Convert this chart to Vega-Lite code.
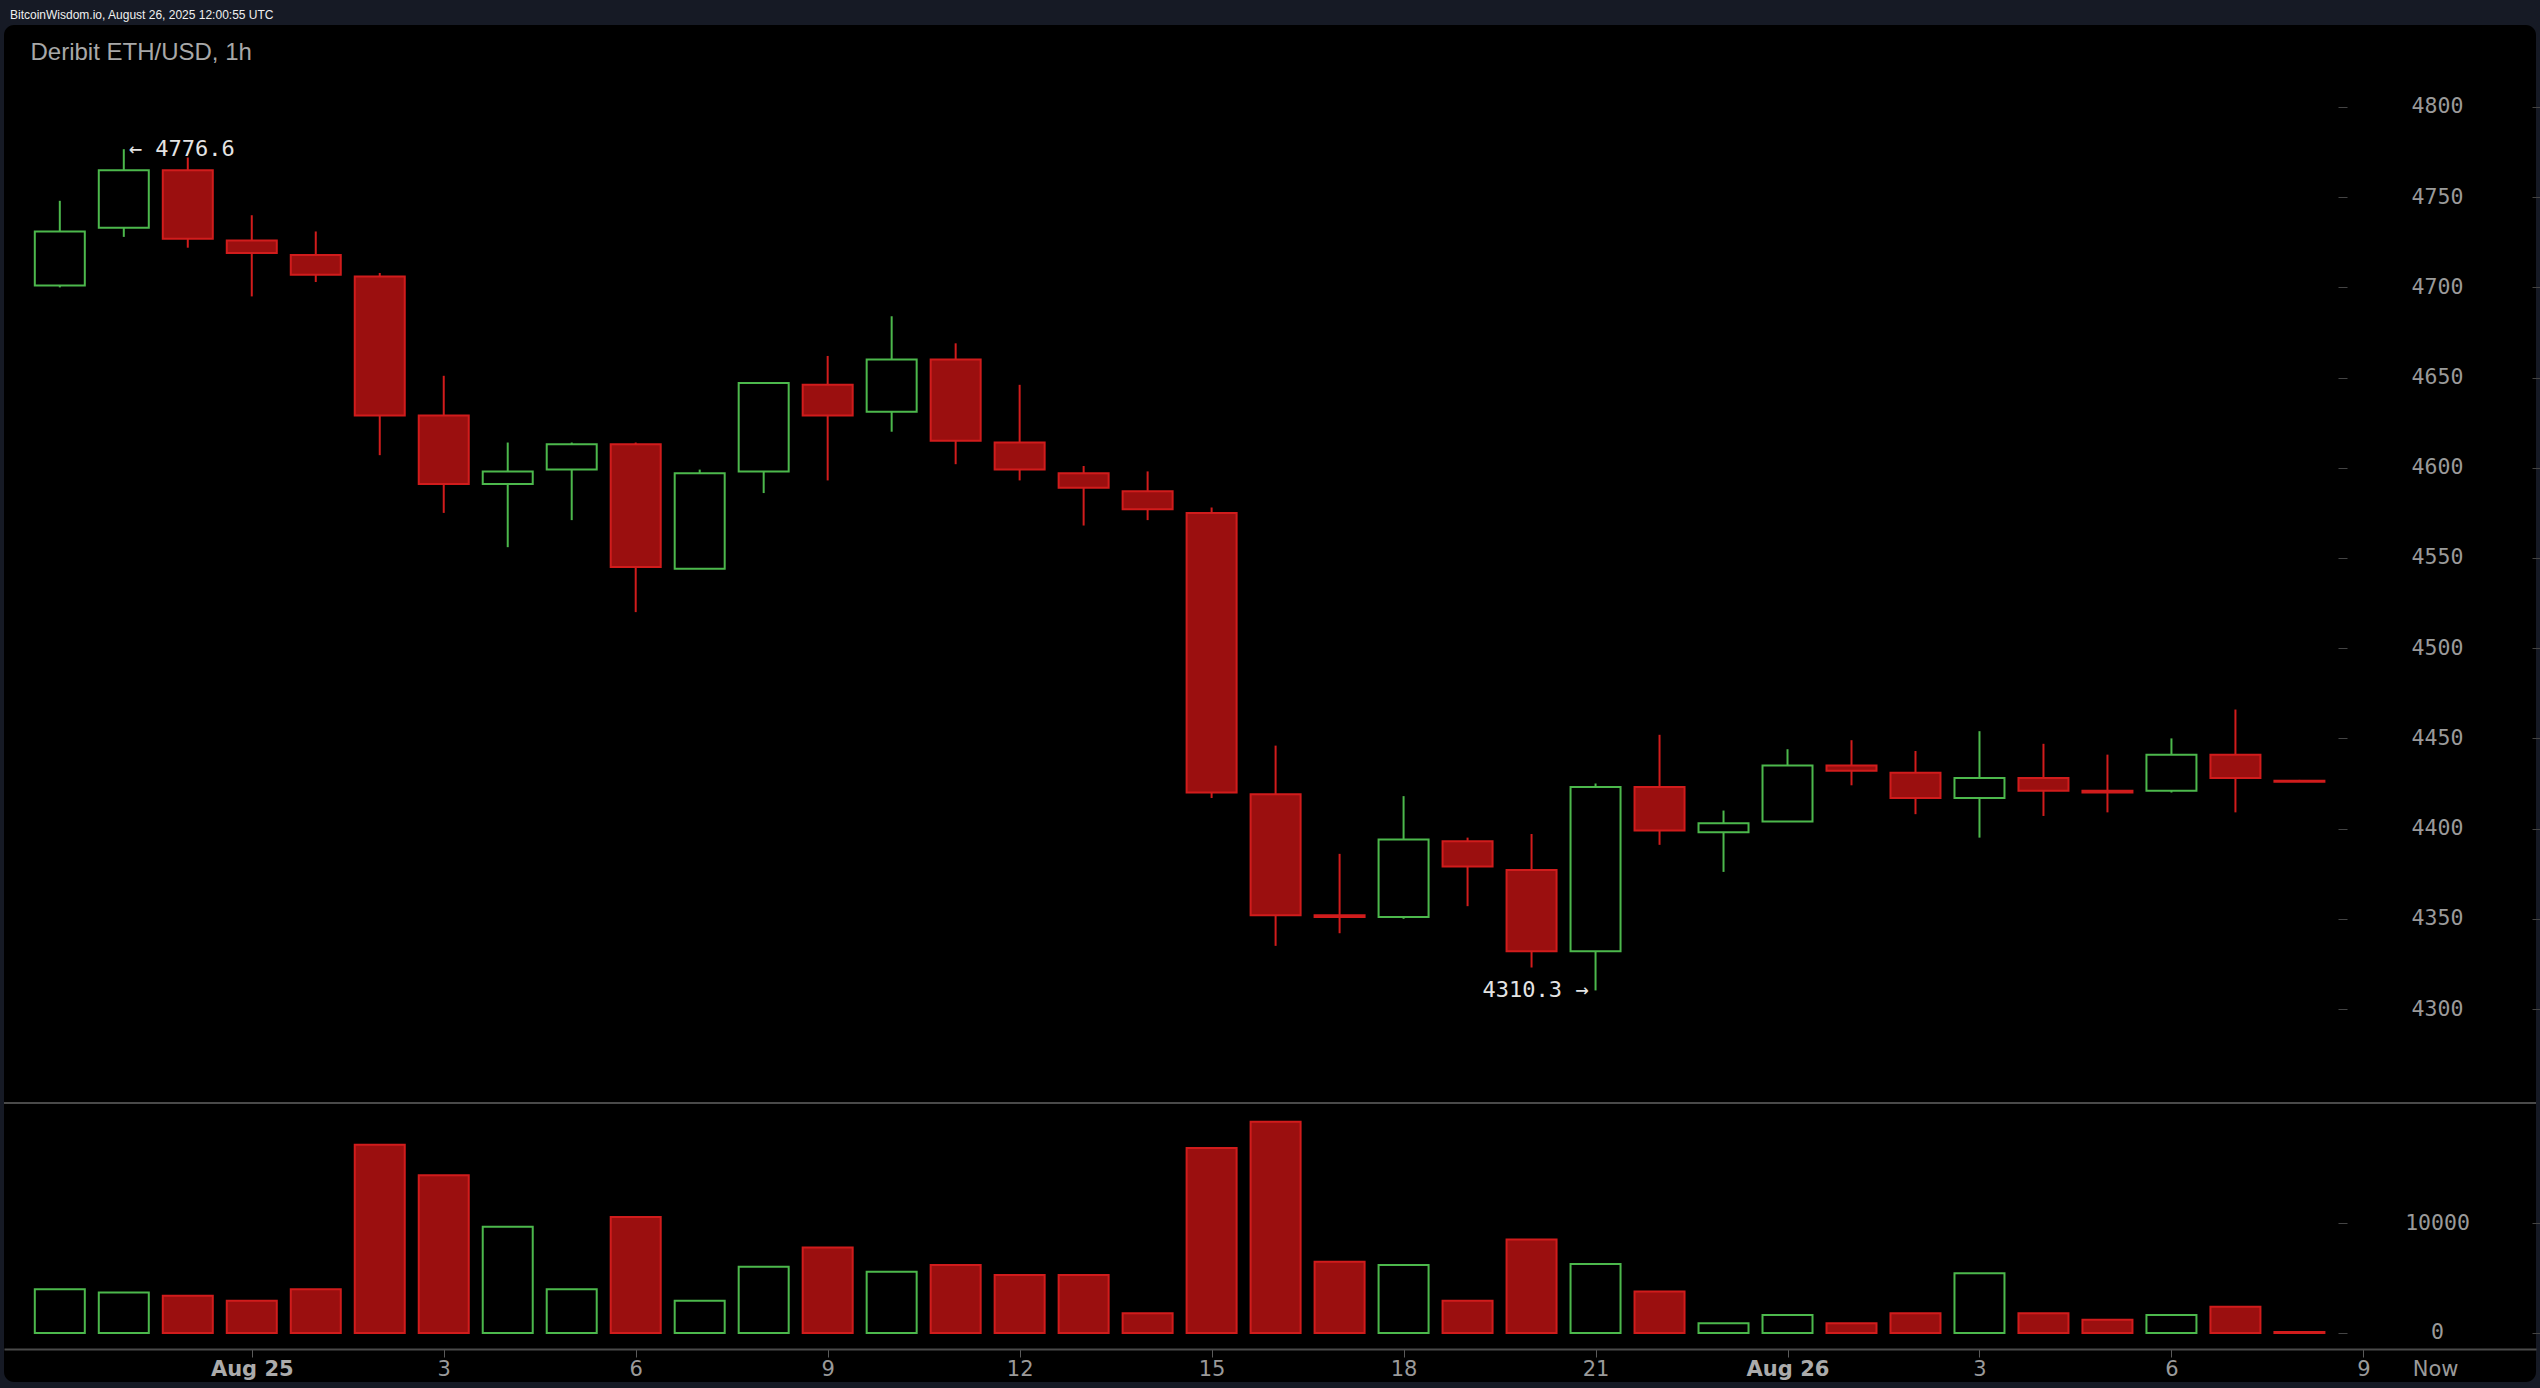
{
  "$schema": "https://vega.github.io/schema/vega-lite/v6.json",
  "autosize": "none",
  "width": 2532,
  "height": 1357,
  "padding": {"left": 4, "top": 25, "right": 4, "bottom": 6},
  "background": "#161a25",
  "config": {
    "view": {"fill": "#000000", "stroke": null, "cornerRadius": 10},
    "axis": {"grid": false}
  },
  "title": {
    "text": "BitcoinWisdom.io, August 26, 2025 12:00:55 UTC",
    "anchor": "start",
    "frame": "group",
    "orient": "top",
    "offset": 7,
    "dx": 6,
    "dy": 13,
    "baseline": "alphabetic",
    "font": "Liberation Sans",
    "fontSize": 12,
    "fontWeight": "normal",
    "color": "#f0f0f0"
  },
  "datasets": {
    "candles": [
      {"h": -3, "o": 4701, "hi": 4748, "lo": 4700, "c": 4731, "v": 4000, "d": "up"},
      {"h": -2, "o": 4733, "hi": 4776.6, "lo": 4728, "c": 4765, "v": 3700, "d": "up"},
      {"h": -1, "o": 4765, "hi": 4772, "lo": 4722, "c": 4727, "v": 3400, "d": "down"},
      {"h": 0, "o": 4726, "hi": 4740, "lo": 4695, "c": 4719, "v": 2950, "d": "down"},
      {"h": 1, "o": 4718, "hi": 4731, "lo": 4703, "c": 4707, "v": 4000, "d": "down"},
      {"h": 2, "o": 4706, "hi": 4708, "lo": 4607, "c": 4629, "v": 17200, "d": "down"},
      {"h": 3, "o": 4629, "hi": 4651, "lo": 4575, "c": 4591, "v": 14400, "d": "down"},
      {"h": 4, "o": 4591, "hi": 4614, "lo": 4556, "c": 4598, "v": 9700, "d": "up"},
      {"h": 5, "o": 4599, "hi": 4614, "lo": 4571, "c": 4613, "v": 4000, "d": "up"},
      {"h": 6, "o": 4613, "hi": 4614, "lo": 4520, "c": 4545, "v": 10600, "d": "down"},
      {"h": 7, "o": 4544, "hi": 4599, "lo": 4544, "c": 4597, "v": 2950, "d": "up"},
      {"h": 8, "o": 4598, "hi": 4647, "lo": 4586, "c": 4647, "v": 6050, "d": "up"},
      {"h": 9, "o": 4646, "hi": 4662, "lo": 4593, "c": 4629, "v": 7800, "d": "down"},
      {"h": 10, "o": 4631, "hi": 4684, "lo": 4620, "c": 4660, "v": 5600, "d": "up"},
      {"h": 11, "o": 4660, "hi": 4669, "lo": 4602, "c": 4615, "v": 6200, "d": "down"},
      {"h": 12, "o": 4614, "hi": 4646, "lo": 4593, "c": 4599, "v": 5300, "d": "down"},
      {"h": 13, "o": 4597, "hi": 4601, "lo": 4568, "c": 4589, "v": 5300, "d": "down"},
      {"h": 14, "o": 4587, "hi": 4598, "lo": 4571, "c": 4577, "v": 1800, "d": "down"},
      {"h": 15, "o": 4575, "hi": 4578, "lo": 4417, "c": 4420, "v": 16900, "d": "down"},
      {"h": 16, "o": 4419, "hi": 4446, "lo": 4335, "c": 4352, "v": 19300, "d": "down"},
      {"h": 17, "o": 4352, "hi": 4386, "lo": 4342, "c": 4351, "v": 6500, "d": "down"},
      {"h": 18, "o": 4351, "hi": 4418, "lo": 4350, "c": 4394, "v": 6200, "d": "up"},
      {"h": 19, "o": 4393, "hi": 4395, "lo": 4357, "c": 4379, "v": 2950, "d": "down"},
      {"h": 20, "o": 4377, "hi": 4397, "lo": 4323, "c": 4332, "v": 8550, "d": "down"},
      {"h": 21, "o": 4332, "hi": 4425, "lo": 4310.3, "c": 4423, "v": 6300, "d": "up"},
      {"h": 22, "o": 4423, "hi": 4452, "lo": 4391, "c": 4399, "v": 3800, "d": "down"},
      {"h": 23, "o": 4398, "hi": 4410, "lo": 4376, "c": 4403, "v": 900, "d": "up"},
      {"h": 24, "o": 4404, "hi": 4444, "lo": 4404, "c": 4435, "v": 1650, "d": "up"},
      {"h": 25, "o": 4435, "hi": 4449, "lo": 4424, "c": 4432, "v": 900, "d": "down"},
      {"h": 26, "o": 4431, "hi": 4443, "lo": 4408, "c": 4417, "v": 1800, "d": "down"},
      {"h": 27, "o": 4417, "hi": 4454, "lo": 4395, "c": 4428, "v": 5450, "d": "up"},
      {"h": 28, "o": 4428, "hi": 4447, "lo": 4407, "c": 4421, "v": 1800, "d": "down"},
      {"h": 29, "o": 4421, "hi": 4441, "lo": 4409, "c": 4420, "v": 1200, "d": "down"},
      {"h": 30, "o": 4421, "hi": 4450, "lo": 4420, "c": 4441, "v": 1650, "d": "up"},
      {"h": 31, "o": 4441, "hi": 4466, "lo": 4409, "c": 4428, "v": 2400, "d": "down"},
      {"h": 32, "o": 4426.5, "hi": 4427, "lo": 4426, "c": 4426, "v": 100, "d": "down"}
    ]
  },
  "data": {"name": "candles"},
  "layer": [
    {
      "mark": {"type": "rule", "strokeWidth": 2},
      "encoding": {
        "x": {
          "field": "h", "type": "quantitative",
          "scale": {"domain": [-3.794, 35.619], "nice": false, "zero": false},
          "axis": {
            "orient": "bottom", "offset": -33, "title": null,
            "values": [0, 3, 6, 9, 12, 15, 18, 21, 24, 27, 30, 33, 34.12],
            "labelExpr": "datum.value == 0 ? 'Aug 25' : datum.value == 24 ? 'Aug 26' : datum.value > 34 ? 'Now' : '' + (datum.value % 24)",
            "labelOverlap": false, "labelFlush": false,
            "domainColor": "#4a4a4a", "domainWidth": 2,
            "tickColor": "#5a5a5a", "tickSize": 8, "tickWidth": 1,
            "tickOpacity": {"condition": {"test": "datum.value > 34", "value": 0}, "value": 1},
            "labelFont": "DejaVu Sans", "labelFontSize": 21, "labelPadding": 1,
            "labelColor": {"condition": {"test": "datum.value == 0 || datum.value == 24", "value": "#ababab"}, "value": "#9a9a9a"},
            "labelFontWeight": {"condition": {"test": "datum.value == 0 || datum.value == 24", "value": "bold"}, "value": "normal"}
          }
        },
        "y": {
          "field": "lo", "type": "quantitative",
          "scale": {"domain": [4093.24, 4845.45], "nice": false, "zero": false},
          "axis": {
            "orient": "right", "offset": -4, "title": null,
            "values": [4300, 4350, 4400, 4450, 4500, 4550, 4600, 4650, 4700, 4750, 4800],
            "labels": false, "domain": false, "tickSize": 8, "tickColor": "#444444"
          }
        },
        "y2": {"field": "hi"},
        "stroke": {
          "field": "d", "type": "nominal",
          "scale": {"domain": ["up", "down"], "range": ["#4cb84c", "#d11c1c"]},
          "legend": null
        }
      }
    },
    {
      "mark": {"type": "bar", "size": 50, "strokeWidth": 2},
      "encoding": {
        "x": {"field": "h", "type": "quantitative", "scale": {"domain": [-3.794, 35.619], "nice": false, "zero": false}},
        "y": {
          "field": "o", "type": "quantitative",
          "scale": {"domain": [4093.24, 4845.45], "nice": false, "zero": false},
          "axis": {
            "orient": "right", "offset": -198, "format": "d",
            "values": [4300, 4350, 4400, 4450, 4500, 4550, 4600, 4650, 4700, 4750, 4800],
            "domain": false, "tickSize": 9, "tickColor": "#444444",
            "labelAlign": "center", "labelBaseline": "middle", "labelPadding": 90,
            "labelFont": "DejaVu Sans Mono", "labelFontSize": 21.5, "labelColor": "#9a9a9a",
            "title": "Deribit ETH/USD, 1h",
            "titleAngle": 0, "titleAlign": "left", "titleBaseline": "alphabetic",
            "titleX": -2308, "titleY": 34,
            "titleFont": "Liberation Sans", "titleFontSize": 24, "titleFontWeight": "normal", "titleColor": "#a8a8a8"
          }
        },
        "y2": {"field": "c"},
        "fill": {
          "field": "d", "type": "nominal",
          "scale": {"domain": ["up", "down"], "range": ["#000000", "#9b0f0f"]},
          "legend": null
        },
        "stroke": {"field": "d", "type": "nominal", "legend": null}
      }
    },
    {
      "transform": [{"filter": "datum.d == 'up'"}],
      "mark": {"type": "bar", "size": 50, "strokeWidth": 2, "fill": "#000000", "stroke": "#4cb84c"},
      "encoding": {
        "x": {"field": "h", "type": "quantitative", "scale": {"domain": [-3.794, 35.619], "nice": false, "zero": false}},
        "y": {
          "field": "v", "type": "quantitative",
          "scale": {"domain": [-4475, 119452], "nice": false, "zero": false},
          "axis": {
            "orient": "right", "offset": -198, "title": null, "format": "d",
            "values": [0, 10000],
            "domain": false, "tickSize": 9, "tickColor": "#444444",
            "labelAlign": "center", "labelBaseline": "middle", "labelPadding": 90,
            "labelFont": "DejaVu Sans Mono", "labelFontSize": 21.5, "labelColor": "#9a9a9a"
          }
        },
        "y2": {"datum": 0}
      }
    },
    {
      "transform": [{"filter": "datum.d == 'down'"}],
      "mark": {"type": "bar", "size": 50, "strokeWidth": 2, "fill": "#9b0f0f", "stroke": "#d11c1c"},
      "encoding": {
        "x": {"field": "h", "type": "quantitative", "scale": {"domain": [-3.794, 35.619], "nice": false, "zero": false}},
        "y": {
          "field": "v", "type": "quantitative",
          "scale": {"domain": [-4475, 119452], "nice": false, "zero": false},
          "axis": {
            "orient": "right", "offset": -4, "title": null,
            "values": [0, 10000],
            "labels": false, "domain": false, "tickSize": 8, "tickColor": "#444444"
          }
        },
        "y2": {"datum": 0}
      }
    },
    {
      "mark": {"type": "rule", "stroke": "#4a4a4a", "strokeWidth": 2},
      "encoding": {
        "y": {"datum": 4247.9, "type": "quantitative", "scale": {"domain": [4093.24, 4845.45], "nice": false, "zero": false}, "axis": null}
      }
    },
    {
      "data": {"values": [{"h": -2, "p": 4776.6, "t": "← 4776.6"}]},
      "mark": {"type": "text", "align": "left", "baseline": "middle", "dx": 5, "font": "DejaVu Sans Mono", "fontSize": 22, "color": "#e4e4e4"},
      "encoding": {
        "x": {"field": "h", "type": "quantitative", "scale": {"domain": [-3.794, 35.619], "nice": false, "zero": false}},
        "y": {"field": "p", "type": "quantitative", "scale": {"domain": [4093.24, 4845.45], "nice": false, "zero": false}, "axis": null},
        "text": {"field": "t"}
      }
    },
    {
      "data": {"values": [{"h": 21, "p": 4310.3, "t": "4310.3 →"}]},
      "mark": {"type": "text", "align": "right", "baseline": "middle", "dx": -7, "font": "DejaVu Sans Mono", "fontSize": 22, "color": "#e4e4e4"},
      "encoding": {
        "x": {"field": "h", "type": "quantitative", "scale": {"domain": [-3.794, 35.619], "nice": false, "zero": false}},
        "y": {"field": "p", "type": "quantitative", "scale": {"domain": [4093.24, 4845.45], "nice": false, "zero": false}, "axis": null},
        "text": {"field": "t"}
      }
    }
  ],
  "resolve": {"scale": {"y": "independent"}, "axis": {"y": "independent"}}
}
